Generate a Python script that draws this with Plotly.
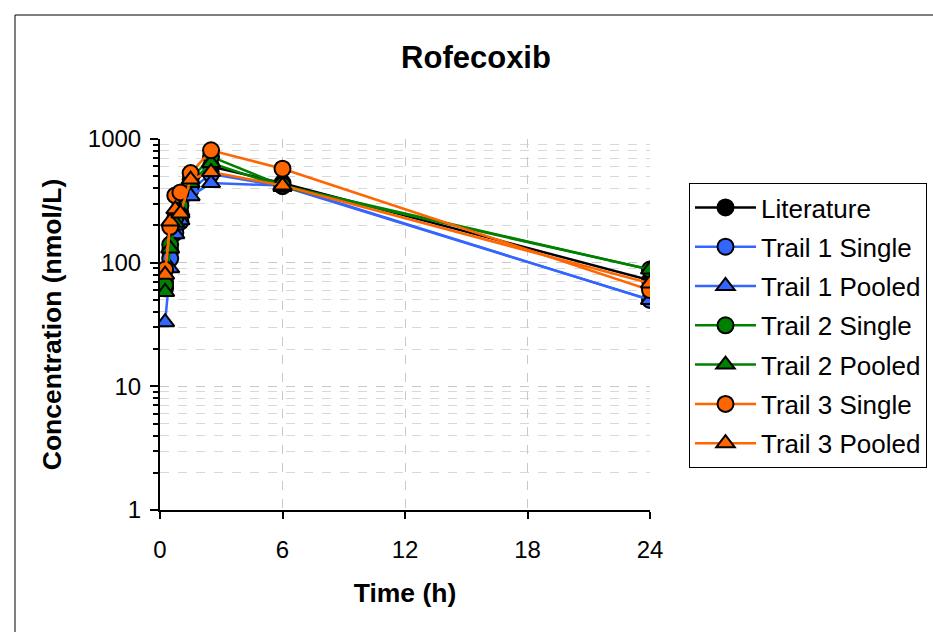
import plotly.graph_objects as go

times = [0.25, 0.5, 0.75, 1, 1.5, 2.5, 6, 24]
literature = [62, 125, 190, 250, 420, 600, 440, 72]
trail1_single = [70, 108, 175, 215, 390, 520, 415, 50]
trail1_pooled = [33, 90, 170, 220, 345, 440, 420, 50]
trail2_single = [66, 140, 230, 290, 470, 720, 420, 88]
trail2_pooled = [58, 130, 210, 260, 440, 640, 410, 88]
trail3_single = [88, 195, 350, 370, 530, 810, 575, 60]
trail3_pooled = [80, 215, 270, 250, 470, 540, 420, 68]

series = [
    ("Literature", literature, "#000000", "circle"),
    ("Trail 1 Single", trail1_single, "#3366FF", "circle"),
    ("Trail 1 Pooled", trail1_pooled, "#3366FF", "triangle-up"),
    ("Trail 2 Single", trail2_single, "#008000", "circle"),
    ("Trail 2 Pooled", trail2_pooled, "#008000", "triangle-up"),
    ("Trail 3 Single", trail3_single, "#FF6600", "circle"),
    ("Trail 3 Pooled", trail3_pooled, "#FF6600", "triangle-up"),
]

FONT = "Liberation Sans, Arial, sans-serif"
fig = go.Figure()
for i, (name, vals, color, sym) in enumerate(series):
    fig.add_trace(go.Scatter(
        x=times, y=vals, name=name, mode="lines+markers",
        line=dict(color=color, width=2.5),
        marker=dict(symbol=sym, size=16, color=color, line=dict(color="black", width=2)),
        legendgroup=f"g{i}",
    ))

L, R, T, B = 160, 650, 139, 510
W, H = 933, 632
fig.update_layout(
    width=W, height=H,
    margin=dict(l=L, r=W - R, t=T, b=H - B, autoexpand=False),
    paper_bgcolor="white", plot_bgcolor="white",
    font=dict(family=FONT, color="black", size=24),
    title=dict(text="<b>Rofecoxib</b>", x=476 / W, xanchor="center",
               y=1 - 57 / H, yanchor="middle", font=dict(size=31)),
    showlegend=True,
    legend=dict(x=(689 - L) / (R - L), xanchor="left", y=(B - 183) / (B - T), yanchor="top",
                bordercolor="black", borderwidth=1, bgcolor="white",
                font=dict(size=26), itemwidth=61, tracegroupgap=2.5),
    xaxis=dict(range=[0, 24], tickvals=[0, 6, 12, 18, 24], showline=True, linecolor="black",
               linewidth=2, ticks="outside", ticklen=7, tickwidth=2, tickcolor="black",
               ticklabelstandoff=10,
               showgrid=True, gridcolor="#C8C8C8", griddash="dash", gridwidth=1,
               zeroline=False,
               title=dict(text="<b>Time (h)</b>", font=dict(size=26.5), standoff=22)),
    yaxis=dict(type="log", range=[0, 3], dtick=1, showline=True, linecolor="black",
               linewidth=2, ticks="outside", ticklen=8, tickwidth=2, tickcolor="black",
               ticklabelstandoff=4,
               showgrid=True, gridcolor="#C8C8C8", griddash="dash", gridwidth=1,
               zeroline=False,
               minor=dict(dtick="D1", ticks="outside", ticklen=5, tickwidth=2, tickcolor="black",
                          showgrid=True, gridcolor="#D8D8D8", griddash="dash", gridwidth=1),
               title=dict(text="<b>Concentration (nmol/L)</b>", font=dict(size=26.5), standoff=19)),
    shapes=[dict(type="rect", xref="paper", yref="paper",
                 x0=(15 - L) / (R - L), x1=(945 - L) / (R - L),
                 y0=(B - 645) / (B - T), y1=(B - 15) / (B - T),
                 line=dict(color="black", width=1), fillcolor="rgba(0,0,0,0)", layer="below")],
)
fig.write_html("out.html")
